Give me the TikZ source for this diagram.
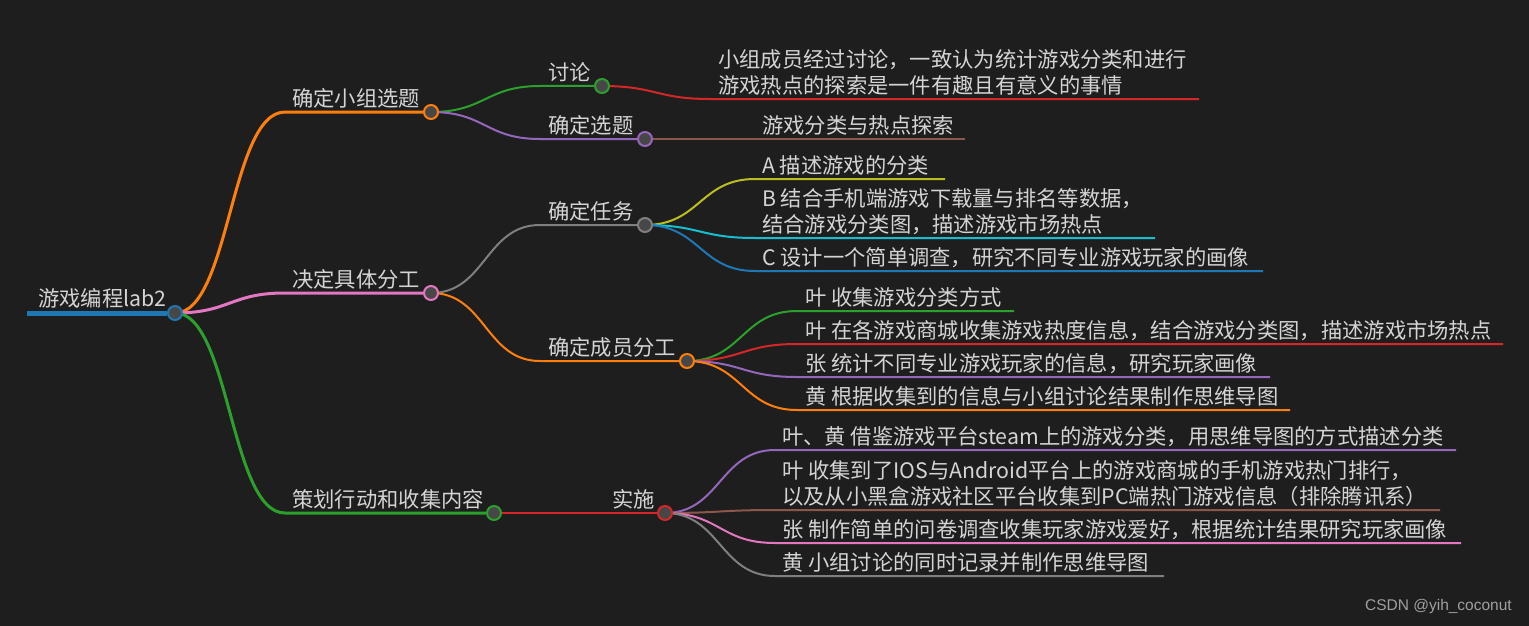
\documentclass[tikz,border=0pt]{standalone}
\usepackage{fontspec}
\newfontfamily\cjk{Noto Sans CJK SC}
\newfontfamily\wmfont{Liberation Sans}
\usetikzlibrary{calc}
\definecolor{bgc}{HTML}{1E1E1E}
\definecolor{txtc}{HTML}{D4D4D4}
\definecolor{dotc}{HTML}{474747}
\definecolor{wmc}{HTML}{A0A0A0}
\definecolor{corange}{HTML}{FF7F0E}
\definecolor{cpink}{HTML}{E377C2}
\definecolor{cgreen}{HTML}{2CA02C}
\definecolor{cpurple}{HTML}{9467BD}
\definecolor{cbrown}{HTML}{8C564B}
\definecolor{cred}{HTML}{D62728}
\definecolor{cgray}{HTML}{7F7F7F}
\definecolor{cyellow}{HTML}{BCBD22}
\definecolor{ccyan}{HTML}{17BECF}
\definecolor{cblue}{HTML}{1F77B4}
\pgfdeclarelayer{bgfill}
\pgfdeclarelayer{edges}
\pgfsetlayers{bgfill,edges,main}
\newcommand\mmlink[4]{%
  \draw[#4] let \p1=(#1.center), \p2=(#2) in
    (\p1) .. controls ({(\x1+\x2)/2},\y1) and ({(\x1+\x2)/2},\y2) .. (\p2) -- (#3);}
\begin{document}
\begin{tikzpicture}[x=1pt,y=-1pt,
  mmdot/.style={circle, draw=#1, fill=dotc, line width=2pt, minimum size=14pt, inner sep=0pt},
  mmtext/.style={anchor=south west, inner sep=0pt, text depth=0pt, text=txtc,
    font=\cjk\fontsize{21.3}{26}\selectfont, align=left},
  lone/.style={line width=3pt, draw=#1},
  ltwo/.style={line width=2pt, draw=#1}]
\begin{pgfonlayer}{bgfill}
\fill[bgc] (0,0) rectangle (1529,626);
\end{pgfonlayer}
\useasboundingbox (0,0) rectangle (1529,626);

% root
\node[mmdot=cblue] (r0) at (175,313) {};
\coordinate (r0s) at (27,313);
\node[mmtext] (r0t) at (38,307) {游戏编程lab2};

% level 1
\node[mmdot=corange] (a) at (431,112) {};
\coordinate (as) at (285,112);
\node[mmtext] (at) at (292,107) {确定小组选题};

\node[mmdot=cpink] (b) at (431,293) {};
\coordinate (bs) at (285,293);
\node[mmtext] (bt) at (292,288) {决定具体分工};

\node[mmdot=cgreen] (c) at (494,513) {};
\coordinate (cs) at (285,513);
\node[mmtext] (ct) at (292,508) {策划行动和收集内容};

% level 2
\node[mmdot=cgreen] (a1) at (602,86) {};
\coordinate (a1s) at (540,86);
\node[mmtext] (a1t) at (548,81) {讨论};

\node[mmdot=cpurple] (a2) at (645,139) {};
\coordinate (a2s) at (540,139);
\node[mmtext] (a2t) at (548,134) {确定选题};

\node[mmdot=cgray] (b1) at (645,225) {};
\coordinate (b1s) at (540,225);
\node[mmtext] (b1t) at (548,220) {确定任务};

\node[mmdot=corange] (b2) at (687,361) {};
\coordinate (b2s) at (540,361);
\node[mmtext] (b2t) at (548,356) {确定成员分工};

\node[mmdot=cred] (c1) at (665,513) {};
\coordinate (c1s) at (600,513);
\node[mmtext] (c1t) at (612,508) {实施};

% leaves
\coordinate (l1s) at (710,99); \coordinate (l1e) at (1199,99);
\node[mmtext] (l1t) at (718,94) {小组成员经过讨论，一致认为统计游戏分类和进行\\游戏热点的探索是一件有趣且有意义的事情};

\coordinate (l2s) at (755,139); \coordinate (l2e) at (965,139);
\node[mmtext] (l2t) at (762,134) {游戏分类与热点探索};

\coordinate (l3s) at (755,179); \coordinate (l3e) at (945,179);
\node[mmtext] (l3t) at (762,174) {A 描述游戏的分类};

\coordinate (l4s) at (755,238); \coordinate (l4e) at (1155,238);
\node[mmtext] (l4t) at (762,233) {B 结合手机端游戏下载量与排名等数据，\\结合游戏分类图，描述游戏市场热点};

\coordinate (l5s) at (755,271); \coordinate (l5e) at (1263,271);
\node[mmtext] (l5t) at (762,266) {C 设计一个简单调查，研究不同专业游戏玩家的画像};

\coordinate (l6s) at (797,311); \coordinate (l6e) at (1014,311);
\node[mmtext] (l6t) at (805,306) {叶 收集游戏分类方式};

\coordinate (l7s) at (797,344); \coordinate (l7e) at (1503,344);
\node[mmtext] (l7t) at (805,339) {叶 在各游戏商城收集游戏热度信息，结合游戏分类图，描述游戏市场热点};

\coordinate (l8s) at (797,377); \coordinate (l8e) at (1270,377);
\node[mmtext] (l8t) at (805,372) {张 统计不同专业游戏玩家的信息，研究玩家画像};

\coordinate (l9s) at (797,410); \coordinate (l9e) at (1290,410);
\node[mmtext] (l9t) at (805,405) {黄 根据收集到的信息与小组讨论结果制作思维导图};

\coordinate (l10s) at (775,450); \coordinate (l10e) at (1456,450);
\node[mmtext] (l10t) at (782,445) {叶、黄 借鉴游戏平台steam上的游戏分类，用思维导图的方式描述分类};

\coordinate (l11s) at (775,510); \coordinate (l11e) at (1440,510);
\node[mmtext] (l11t) at (782,505) {叶 收集到了IOS与Android平台上的游戏商城的手机游戏热门排行，\\以及从小黑盒游戏社区平台收集到PC端热门游戏信息（排除腾讯系）};

\coordinate (l12s) at (775,543); \coordinate (l12e) at (1461,543);
\node[mmtext] (l12t) at (782,538) {张 制作简单的问卷调查收集玩家游戏爱好，根据统计结果研究玩家画像};

\coordinate (l13s) at (775,576); \coordinate (l13e) at (1164,576);
\node[mmtext] (l13t) at (782,571) {黄 小组讨论的同时记录并制作思维导图};

% watermark
\node[anchor=east, inner sep=0pt, text=wmc, font=\wmfont\fontsize{15.5}{18}\selectfont] (wm) at (1512,606) {CSDN @yih\_coconut};

% connectors
\begin{pgfonlayer}{edges}
\draw[line width=5pt, draw=cblue] (r0s) -- (r0);
\mmlink{r0}{as}{a}{lone=corange}
\mmlink{r0}{bs}{b}{lone=cpink}
\mmlink{r0}{cs}{c}{lone=cgreen}
\mmlink{a}{a1s}{a1}{ltwo=cgreen}
\mmlink{a}{a2s}{a2}{ltwo=cpurple}
\mmlink{b}{b1s}{b1}{ltwo=cgray}
\mmlink{b}{b2s}{b2}{ltwo=corange}
\mmlink{c}{c1s}{c1}{ltwo=cred}
\mmlink{a1}{l1s}{l1e}{ltwo=cred}
\mmlink{a2}{l2s}{l2e}{ltwo=cbrown}
\mmlink{b1}{l3s}{l3e}{ltwo=cyellow}
\mmlink{b1}{l4s}{l4e}{ltwo=ccyan}
\mmlink{b1}{l5s}{l5e}{ltwo=cblue}
\mmlink{b2}{l6s}{l6e}{ltwo=cgreen}
\mmlink{b2}{l7s}{l7e}{ltwo=cred}
\mmlink{b2}{l8s}{l8e}{ltwo=cpurple}
\mmlink{b2}{l9s}{l9e}{ltwo=corange}
\mmlink{c1}{l10s}{l10e}{ltwo=cpurple}
\mmlink{c1}{l11s}{l11e}{ltwo=cbrown}
\mmlink{c1}{l12s}{l12e}{ltwo=cpink}
\mmlink{c1}{l13s}{l13e}{ltwo=cgray}
\end{pgfonlayer}
\end{tikzpicture}
\end{document}
